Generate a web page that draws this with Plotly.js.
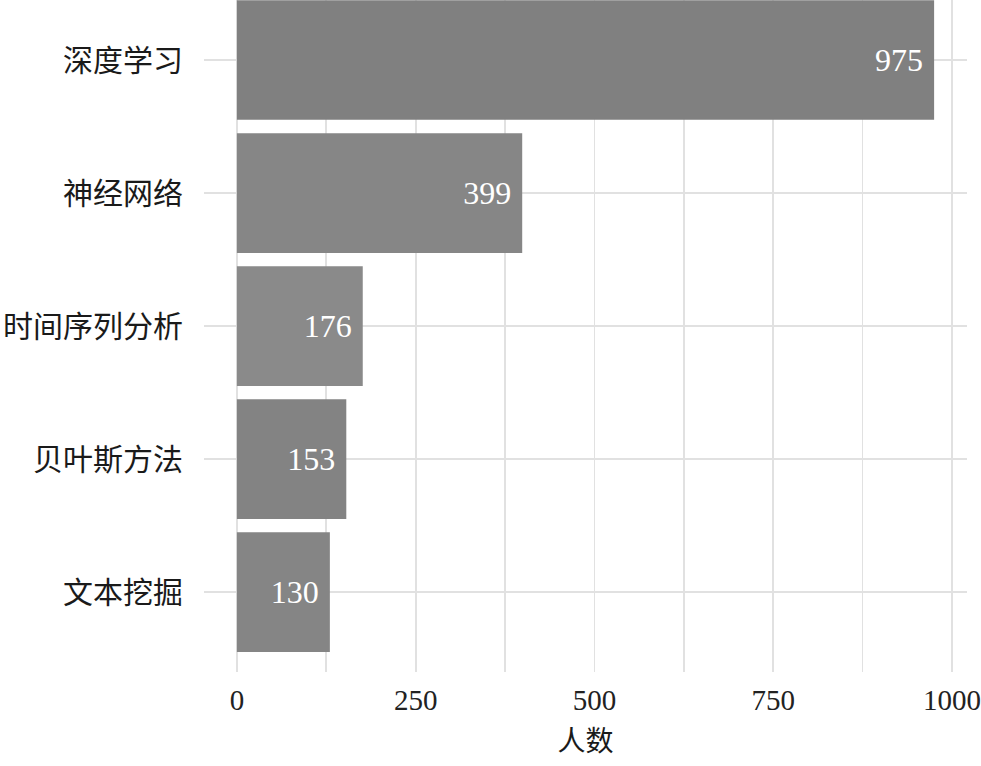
<!DOCTYPE html>
<html>
<head>
<meta charset="utf-8">
<script src="https://cdn.plot.ly/plotly-3.0.1.min.js"></script>
<style>html,body{margin:0;padding:0;background:#fff;}#chart{width:981px;height:766px;}</style>
</head>
<body>
<div id="chart"></div>
<script>
// categories listed bottom to top
const categories = ["文本挖掘", "贝叶斯方法", "时间序列分析", "神经网络", "深度学习"];
const counts = [130, 153, 176, 399, 975];
const barColors = ["#858585", "#838383", "#8a8a8a", "#868686", "#808080"];
const xTickVals = [0, 250, 500, 750, 1000];
const xTickText = ["0", "250", "500", "750", "1000"];
const xTitle = "人数";

const serif = '"Liberation Serif", "Times New Roman", "Noto Sans CJK SC", serif';

const trace = {
  type: "bar",
  orientation: "h",
  y: categories,
  x: counts,
  width: 0.9,
  marker: {color: barColors, line: {width: 0}},
  text: counts.map(v => String(v) + "\u00a0"),
  textposition: "inside",
  insidetextanchor: "end",
  constraintext: "none",
  textfont: {family: serif, size: 32, color: "#ffffff"},
  hoverinfo: "x+y"
};

const layout = {
  width: 981,
  height: 766,
  margin: {l: 204, r: 14, t: 0, b: 94},
  paper_bgcolor: "#ffffff",
  plot_bgcolor: "#ffffff",
  showlegend: false,
  font: {family: serif, color: "#1a1a1a"},
  xaxis: {
    range: [-46, 1021],
    tickvals: xTickVals,
    ticktext: xTickText,
    showgrid: true,
    gridcolor: "#e1e1e1",
    gridwidth: 1.8,
    zeroline: false,
    showline: false,
    ticks: "",
    ticklabelstandoff: 8,
    tickfont: {family: serif, size: 29, color: "#222222"},
    minor: {dtick: 125, tick0: 125, showgrid: true, gridcolor: "#e1e1e1", gridwidth: 1.8},
    title: {text: xTitle, font: {family: '"Noto Sans CJK SC", serif', size: 28, color: "#1a1a1a"}, standoff: 16},
    fixedrange: true
  },
  yaxis: {
    type: "category",
    categoryorder: "array",
    categoryarray: categories,
    range: [-0.6, 4.451],
    showgrid: true,
    gridcolor: "#e1e1e1",
    gridwidth: 1.8,
    zeroline: false,
    showline: false,
    ticks: "",
    ticklabelstandoff: 20,
    tickfont: {family: '"Noto Sans CJK SC", serif', size: 30, color: "#1a1a1a"},
    fixedrange: true
  }
};

Plotly.newPlot("chart", [trace], layout, {displayModeBar: false, staticPlot: true});
</script>
</body>
</html>
